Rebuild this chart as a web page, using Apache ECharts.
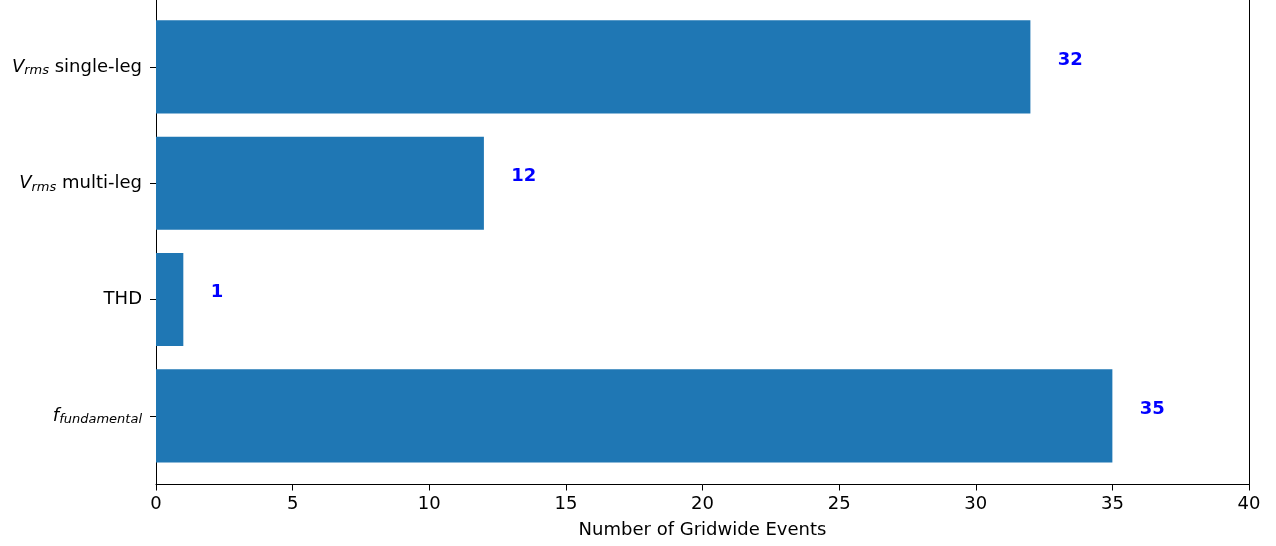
<!DOCTYPE html>
<html>
<head>
<meta charset="utf-8">
<script src="https://cdn.jsdelivr.net/npm/echarts@6/dist/echarts.min.js"></script>
<style>
  html, body { margin: 0; padding: 0; background: #fff; }
  #chart { width: 1276px; height: 546px; }
</style>
</head>
<body>
<div id="chart"></div>
<script>
// Event counts per power-quality metric (bottom to top)
const categories = ['f_fundamental', 'THD', 'Vrms_multi', 'Vrms_single'];
const eventCounts = [35, 1, 12, 32];
const xTicks = [0, 5, 10, 15, 20, 25, 30, 35, 40];

// Rich-text tick labels with italic symbols and subscripts
const labelText = {
  f_fundamental: '{it|f}{sub|fundamental}',
  THD: '{n|THD}',
  Vrms_multi: '{it|V}{sub|rms}{n| multi-leg}',
  Vrms_single: '{it|V}{sub|rms}{n| single-leg}'
};

const FONT = '"DejaVu Sans", sans-serif';
const BAR_COLOR = '#1f77b4';
const FS = 18;
const Y_MIN = -0.59;
const Y_MAX = 3.575;

const chart = echarts.init(document.getElementById('chart'), null, { renderer: 'canvas' });

const seriesData = eventCounts.map((v, i) => [v, i]);
const catPositions = categories.map((_, i) => i);

chart.setOption({
  animation: false,
  backgroundColor: '#ffffff',
  grid: { left: 156, right: 27, top: 0, bottom: 61.5 },
  xAxis: {
    type: 'value',
    min: xTicks[0], max: xTicks[xTicks.length - 1], interval: xTicks[1] - xTicks[0],
    axisLine: { show: true, onZero: false, lineStyle: { color: '#000', width: 1 } },
    axisTick: { show: true, length: 6, lineStyle: { color: '#000' } },
    axisLabel: { color: '#000', fontFamily: FONT, fontSize: FS, margin: 11 },
    splitLine: { show: false },
    name: 'Number of Gridwide Events',
    nameLocation: 'middle',
    nameGap: 37,
    nameTextStyle: { color: '#000', fontFamily: FONT, fontSize: FS }
  },
  yAxis: [{
    type: 'value',
    min: Y_MIN, max: Y_MAX,
    axisLine: { show: true, onZero: false, lineStyle: { color: '#000', width: 1 } },
    axisTick: { show: true, length: 6, customValues: catPositions, lineStyle: { color: '#000' } },
    axisLabel: {
      customValues: catPositions,
      margin: 14,
      color: '#000',
      fontFamily: FONT,
      fontSize: FS,
      formatter: (v) => labelText[categories[Math.round(v)]] || '',
      rich: {
        n: { fontFamily: FONT, fontSize: FS, color: '#000' },
        it: { fontFamily: FONT, fontSize: FS, fontStyle: 'italic', color: '#000' },
        sub: { fontFamily: FONT, fontSize: 13, fontStyle: 'italic', color: '#000', padding: [8, 0, 0, 0] }
      }
    },
    splitLine: { show: false }
  }, {
    // right-hand frame line
    type: 'value',
    position: 'right',
    min: Y_MIN, max: Y_MAX,
    axisLine: { show: true, onZero: false, lineStyle: { color: '#000', width: 1 } },
    axisTick: { show: false },
    axisLabel: { show: false },
    splitLine: { show: false }
  }],
  series: [{
    type: 'custom',
    data: seriesData,
    encode: { x: 0, y: 1 },
    clip: false,
    renderItem: (params, api) => {
      const value = api.value(0);
      const idx = api.value(1);
      const start = api.coord([0, idx]);
      const end = api.coord([value, idx]);
      const h = api.size([0, 0.8])[1];
      const labelPos = api.coord([value + 1, idx]);
      return {
        type: 'group',
        children: [
          {
            type: 'rect',
            shape: { x: start[0], y: start[1] - h / 2, width: end[0] - start[0], height: h },
            style: { fill: BAR_COLOR }
          },
          {
            type: 'text',
            x: labelPos[0],
            y: labelPos[1] - 7,
            style: {
              text: String(value),
              fill: '#0000ff',
              fontFamily: FONT,
              fontSize: FS,
              fontWeight: 'bold',
              align: 'left',
              verticalAlign: 'middle'
            }
          }
        ]
      };
    }
  }]
});
</script>
</body>
</html>
